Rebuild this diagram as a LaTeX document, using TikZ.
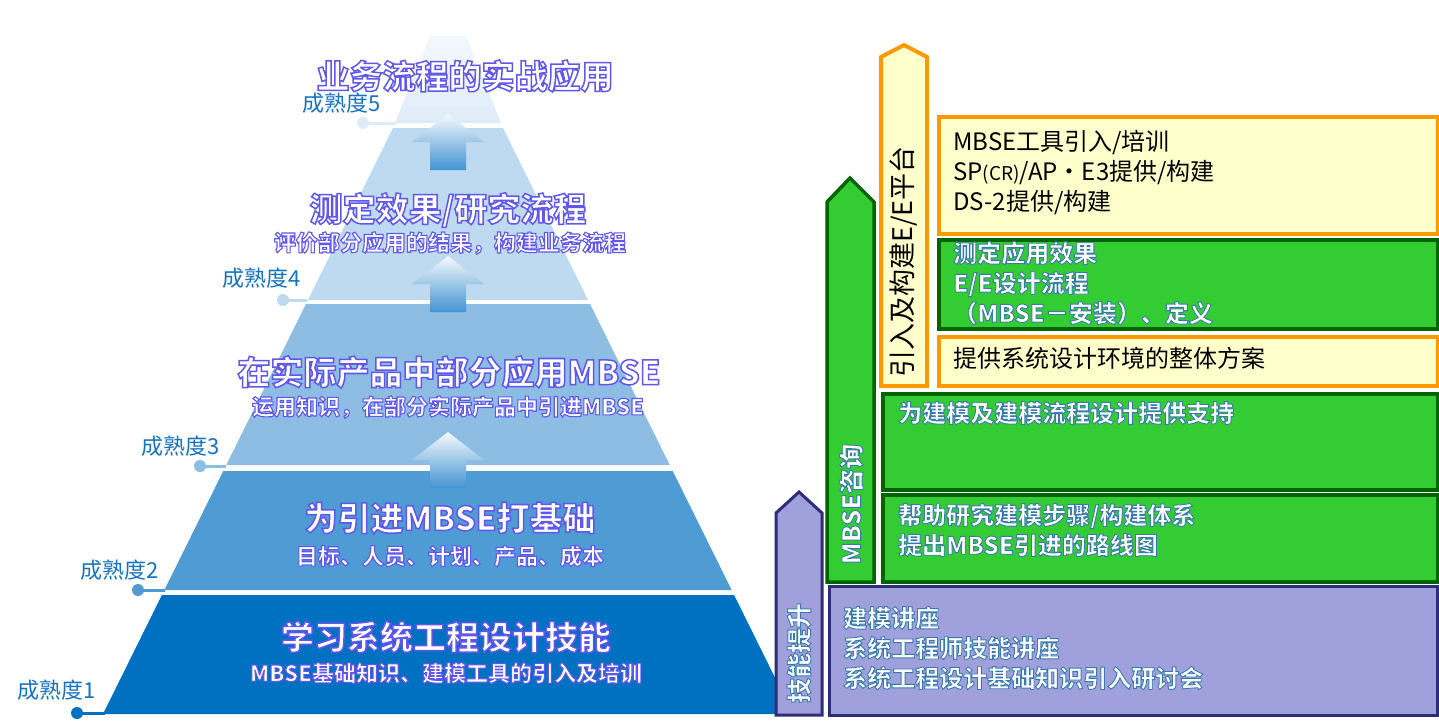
\documentclass[tikz,border=0pt]{standalone}
\usepackage{fontspec}
\setmainfont{Noto Sans CJK SC}
\definecolor{bandA}{RGB}{0,112,192}
\definecolor{bandB}{RGB}{79,155,212}
\definecolor{bandC}{RGB}{141,189,226}
\definecolor{bandD}{RGB}{190,218,240}
\definecolor{bandE}{RGB}{222,236,248}
\definecolor{lvltxt}{RGB}{23,115,190}
\definecolor{lav}{RGB}{160,160,220}
\definecolor{navy}{RGB}{46,46,120}
\definecolor{grn}{RGB}{51,204,51}
\definecolor{dgrn}{RGB}{0,100,0}
\definecolor{org}{RGB}{255,153,0}
\definecolor{pale}{RGB}{255,255,204}
\definecolor{arrtop}{RGB}{246,249,253}
\definecolor{arrmid}{RGB}{218,233,246}
\definecolor{arrbot}{RGB}{66,148,210}
\newcommand{\gpy}[1]{{\bfseries\color{white}\special{pdf:literal direct 2 Tr 1.5 w 0.38 0.34 0.93 RG}#1\special{pdf:literal direct 0 Tr}}}
\newcommand{\gpys}[1]{{\bfseries\color{white}\special{pdf:literal direct 2 Tr 1.1 w 0.38 0.34 0.93 RG}#1\special{pdf:literal direct 0 Tr}}}
\newcommand{\gbx}[1]{{\bfseries\color{white}\special{pdf:literal direct 2 Tr 0.9 w 0.22 0.48 0.68 RG}#1\special{pdf:literal direct 0 Tr}}}
\newcommand{\pyrband}[3]{%
  \pgfmathsetmacro{\pyrwt}{345-0.495*(714-#1)}%
  \pgfmathsetmacro{\pyrwb}{345-0.495*(714-#2)}%
  \fill[#3] ({448-\pyrwt},#1) -- ({448+\pyrwt},#1) -- ({448+\pyrwb},#2) -- ({448-\pyrwb},#2) -- cycle;}
\newcommand{\uparr}[1]{%
  \shade[top color=arrtop, middle color=arrmid, bottom color=arrbot]
    (448,#1) -- (484,#1+28) -- (466,#1+28) -- (466,#1+56) -- (430,#1+56) -- (430,#1+28) -- (412,#1+28) -- cycle;}
\begin{document}
\begin{tikzpicture}[x=1pt,y=-1pt,
  pyt/.style={inner sep=0pt, text=white, font=\fontsize{33}{36}\selectfont},
  pys/.style={pyt, font=\fontsize{22}{26}\selectfont},
  lvl/.style={inner sep=0pt, text=lvltxt, font=\fontsize{22}{24}\selectfont},
  lvldot/.style={circle, inner sep=0pt, minimum size=12pt},
  lvlline/.style={line width=3pt},
  bxt/.style={inner sep=0pt, anchor=west, text width=470pt, align=left,
    font=\fontsize{24}{30}\selectfont},
  vt/.style={inner sep=0pt, rotate=90, font=\fontsize{25}{28}\selectfont},
  obox/.style={draw=org, fill=pale, line width=4pt, anchor=north west, inner sep=0pt},
  gbox/.style={draw=dgrn, fill=grn, line width=3.5pt, anchor=north west, inner sep=0pt},
  pbox/.style={draw=navy, fill=lav, line width=3pt, anchor=north west, inner sep=0pt}
]
\useasboundingbox (0,0) rectangle (1439,720);
\fill[white] (0,0) rectangle (1439,720);

% pyramid bands
\pyrband{595}{714}{bandA}
\pyrband{471}{590}{bandB}
\pyrband{304}{465}{bandC}
\pyrband{128}{300}{bandD}
\shade[top color=bandE!35!white, bottom color=bandE]
  (430,36) -- (466,36) -- (501,123) -- (395,123) -- cycle;

% up arrows
\uparr{114}
\uparr{256}
\uparr{432}

% maturity markers
\coordinate (e1) at (105,713);
\coordinate (e2) at (165,590);
\coordinate (e3) at (226,466);
\coordinate (e4) at (307,300);
\coordinate (e5) at (396,123);
\node[lvldot, fill=bandA] (d1) at (77,713) {};
\node[lvldot, fill=bandB] (d2) at (138,590) {};
\node[lvldot, fill=bandC] (d3) at (200,466) {};
\node[lvldot, fill=bandD] (d4) at (283,300) {};
\node[lvldot, fill=bandE] (d5) at (363,123) {};
\draw[lvlline, bandA] (d1.center) -- (e1);
\draw[lvlline, bandB] (d2.center) -- (e2);
\draw[lvlline, bandC] (d3.center) -- (e3);
\draw[lvlline, bandD] (d4.center) -- (e4);
\draw[lvlline, bandE] (d5.center) -- (e5);
\node[lvl] (l1) at (57,690) {成熟度1};
\node[lvl] (l2) at (120,570) {成熟度2};
\node[lvl] (l3) at (181,446) {成熟度3};
\node[lvl] (l4) at (262,278) {成熟度4};
\node[lvl] (l5) at (342,103) {成熟度5};

% pyramid texts
\node[pyt] (p5) at (465,76) {\gpy{业务流程的实战应用}};
\node[pyt] (p4) at (448,210) {\gpy{测定效果/研究流程}};
\node[pys] (p4s) at (450,243) {\gpys{评价部分应用的结果，构建业务流程}};
\node[pyt] (p3) at (449,372) {\gpy{在实际产品中部分应用MBSE}};
\node[pys] (p3s) at (448,407) {\gpys{运用知识，在部分实际产品中引进MBSE}};
\node[pyt] (p2) at (450,518) {\gpy{为引进MBSE打基础}};
\node[pys] (p2s) at (450,556) {\gpys{目标、人员、计划、产品、成本}};
\node[pyt] (p1) at (446,637) {\gpy{学习系统工程设计技能}};
\node[pys] (p1s) at (446,673) {\gpys{MBSE基础知识、建模工具的引入及培训}};

% right side arrows
\filldraw[fill=lav, draw=navy, line width=3pt]
  (776,715) -- (776,513) -- (799,492) -- (822,513) -- (822,715) -- cycle;
\filldraw[fill=grn, draw=dgrn, line width=3.5pt]
  (827,582) -- (827,202) -- (850,178) -- (874,202) -- (874,582) -- cycle;
\filldraw[fill=pale, draw=org, line width=4pt]
  (881,386) -- (881,57) -- (904,45) -- (927,57) -- (927,386) -- cycle;

% boxes
\node[obox, minimum width=499pt, minimum height=117pt] (ob1) at (937,115) {};
\node[gbox, minimum width=499pt, minimum height=89pt] (gm) at (937,238) {};
\node[obox, minimum width=499pt, minimum height=49pt] (ob2) at (937,335) {};
\node[gbox, minimum width=555pt, minimum height=96pt] (gb1) at (881,392) {};
\node[gbox, minimum width=555pt, minimum height=87pt] (gb2) at (881,493) {};
\node[pbox, minimum width=608pt, minimum height=129pt] (pb) at (828,585) {};

% box texts
\node[bxt, text=black] (tob1) at (953,173)
  {MBSE工具引入/培训\\SP{\fontsize{19}{30}\selectfont(CR)}/AP・E3提供/构建\\DS-2提供/构建};
\node[bxt, text=white] (tgm) at (953,283)
  {\gbx{测定应用效果\\E/E设计流程\\（MBSE－安装）、定义}};
\node[bxt, text=black] (tob2) at (953,358) {提供系统设计环境的整体方案};
\node[bxt, text=white] (tgb1) at (898,413) {\gbx{为建模及建模流程设计提供支持}};
\node[bxt, text=white] (tgb2) at (898,530) {\gbx{帮助研究建模步骤/构建体系\\提出MBSE引进的路线图}};
\node[bxt, text=white] (tpb) at (843,648) {\gbx{建模讲座\\系统工程师技能讲座\\系统工程设计基础知识引入研讨会}};

% vertical labels
\node[vt, text=white] (tskill) at (799,653) {\gbx{技能提升}};
\node[vt, text=white] (tcons) at (851,504) {\gbx{MBSE咨询}};
\node[vt, text=black, font=\fontsize{27}{30}\selectfont] (tplat) at (904,262) {引入及构建E/E平台};
\end{tikzpicture}
\end{document}
